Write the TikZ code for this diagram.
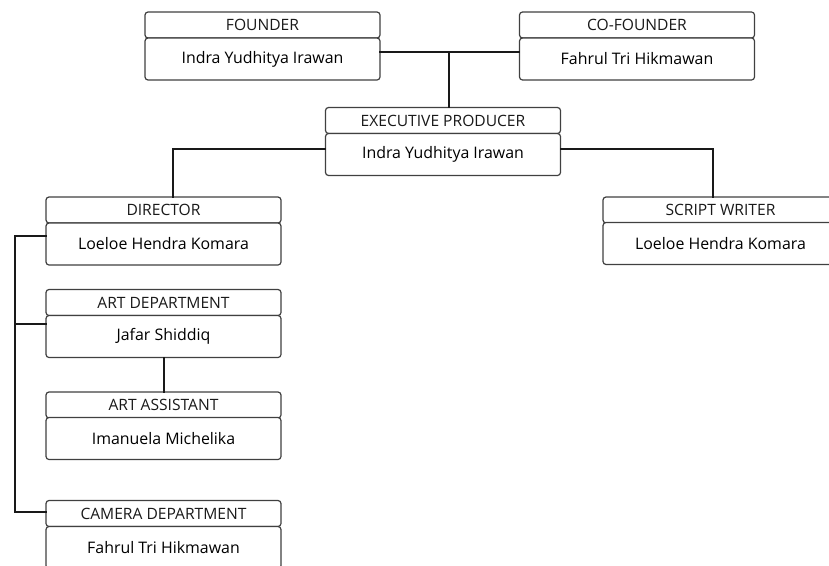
\documentclass[tikz,border=0pt]{standalone}
\usepackage{fontspec}
\setmainfont{Open Sans}
\begin{document}
\begin{tikzpicture}[x=1pt,y=-1pt,
  hdr/.style={draw=black!75, line width=1.2pt, rounded corners=3pt, fill=white,
    minimum width=235pt, minimum height=26pt, inner sep=0pt,
    font=\fontsize{15.6}{16}\selectfont, text=black!90},
  nm/.style={draw=black!75, line width=1.2pt, rounded corners=3pt, fill=white,
    minimum width=235pt, minimum height=42pt, inner sep=0pt,
    font=\fontsize{15.9}{17}\selectfont, text=black},
  conn/.style={line width=2.4pt, black!90, line cap=rect}]
\useasboundingbox (0,0) rectangle (829,565);
\clip (0,0) rectangle (829,565);
\coordinate (j1) at (449,52);
\coordinate (jl) at (173,149);
\coordinate (jr) at (713,149);
\coordinate (b1) at (15,236);
\coordinate (b2) at (15,324);
\coordinate (b3) at (15,512);
\coordinate (ja) at (164,340);
% nodes
\node[hdr] (fh) at (262.5,25) {FOUNDER};
\node[nm]  (fn) at (262.5,59) {Indra Yudhitya Irawan};
\node[hdr] (ch) at (637,25) {CO-FOUNDER};
\node[nm]  (cn) at (637,59) {Fahrul Tri Hikmawan};
\node[hdr] (eh) at (443,120.5) {EXECUTIVE PRODUCER};
\node[nm]  (en) at (443,154.5) {Indra Yudhitya Irawan};
\node[hdr] (dh) at (163.5,210) {DIRECTOR};
\node[nm]  (dn) at (163.5,244) {Loeloe Hendra Komara};
\node[hdr] (sh) at (720.5,210) {SCRIPT WRITER};
\node[nm]  (sn) at (720.5,243.5) {Loeloe Hendra Komara};
\node[hdr] (ah) at (163.5,302.5) {ART DEPARTMENT};
\node[nm]  (an) at (163.5,336.5) {Jafar Shiddiq};
\node[hdr] (xh) at (163.5,405) {ART ASSISTANT};
\node[nm]  (xn) at (163.5,438.5) {Imanuela Michelika};
\node[hdr] (mh) at (163.5,513.5) {CAMERA DEPARTMENT};
\node[nm]  (mn) at (163.5,547.5) {Fahrul Tri Hikmawan};
% connectors
\draw[conn] (fn.east |- j1) -- (cn.west |- j1);
\draw[conn] (j1) -- (j1 |- eh.north);
\draw[conn] (en.west |- jl) -- (jl) -- (jl |- dh.north);
\draw[conn] (en.east |- jr) -- (jr) -- (jr |- sh.north);
\draw[conn] (dn.west |- b1) -- (b1) -- (b3) -- (mh.west |- b3);
\draw[conn] (b2) -- (an.west |- b2);
\draw[conn] (ja |- an.south) -- (ja |- xh.north);
\end{tikzpicture}
\end{document}
